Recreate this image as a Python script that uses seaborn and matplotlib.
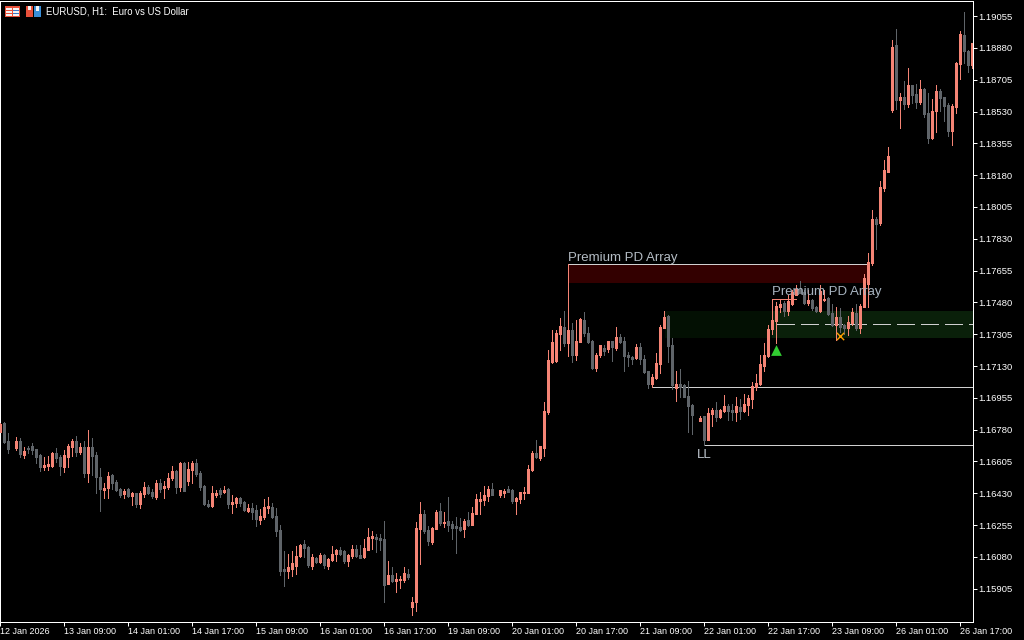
import numpy as np
import pandas as pd
import seaborn as sns
import matplotlib.pyplot as plt
from matplotlib.patches import Rectangle

# candles in points (price * 100000); None = nothing drawn for that bar
body_high = [116811,116818,116717,None,116717,116717,116664,116677,116690,116673,
    116640,116586,116591,116653,116653,116628,116640,116692,116719,116717,
    116686,116686,116686,116686,116640,116519,116459,116525,116532,116494,
    116452,116443,116455,116431,116431,116433,116464,116466,116437,116487,
    116487,116470,116516,116554,116553,116598,116598,116563,116598,116598,
    116543,116470,116371,116431,116431,116448,116448,116452,116382,116406,
    116406,116382,116349,116349,116338,116305,116354,116360,116354,116305,
    116228,116014,116023,116046,116085,116145,116151,116136,116079,116074,
    116090,116090,116068,116096,116118,116118,116113,116090,116123,116123,
    116090,116129,116189,116195,116189,116184,116179,115980,115980,115959,
    115959,115992,115986,115832,116239,116316,116316,116228,116239,116329,
    116333,116272,116277,116261,116250,116245,116277,116283,116321,116398,
    116398,116420,116453,116453,None,116448,116442,116453,116448,116404,
    116437,116437,116563,116651,116651,116690,116882,117163,117262,117311,
    117350,117345,117328,117328,117267,117389,117383,117311,117267,117191,
    117245,117229,117267,117267,117289,117289,117267,117191,117180,117234,
    117234,117169,117103,117069,117146,117345,117400,117405,117245,117031,
    117031,117026,116965,116916,None,116844,116855,116871,116888,116888,
    116888,116910,116910,116888,116910,116905,116921,116954,117020,117037,
    117141,117191,117334,117383,117460,117471,117477,117488,117537,117553,
    117553,117537,117493,117493,117454,117542,117499,117504,117421,117400,
    117400,117356,117372,117427,117421,117460,117614,117702,117939,117939,
    118115,118208,118285,118884,118895,118610,118610,118676,118676,118626,
    118653,118653,118522,118533,118643,118643,118610,118566,118560,118797,
    118956,118951,118863,118906]
body_low = [116769,116710,116673,None,116677,116646,116640,116673,116668,116631,
    116576,116575,116580,116580,116622,116582,116576,116631,116684,116659,
    116657,116543,116543,116635,116521,116452,116448,116459,116488,116448,
    116420,116426,116413,116417,116371,116371,116426,116433,116413,116411,
    116452,116459,116463,116514,116463,116463,116444,116497,116558,116536,
    116463,116371,116360,116358,116420,116426,116437,116371,116371,116375,
    116377,116336,116333,116329,116287,116283,116298,116349,116298,116222,
    116003,116003,116003,116014,116032,116085,116129,116036,116030,116052,
    116052,116036,116030,116063,116094,116096,116056,116056,116085,116085,
    116074,116079,116118,116186,116179,116173,115926,115931,115947,115949,
    115953,115953,115970,115805,115832,116233,116222,116168,116162,116233,
    116266,116266,116255,116237,116239,116228,116233,116255,116255,116316,
    116387,116393,116415,116420,None,116420,116431,116437,116387,116387,
    116398,116431,116431,116558,116629,116624,116681,116877,117152,117157,
    117306,117257,117257,117191,117191,117262,117311,117262,117119,117119,
    117191,117213,117223,117234,117229,117262,117185,117180,117169,117174,
    117169,117097,117031,117031,117064,117141,117339,117240,117026,117009,
    117015,116959,116910,116861,None,116827,116723,116723,116866,116849,
    116849,116882,116882,116877,116877,116882,116882,116915,116948,117015,
    117031,117130,117185,117334,117377,117454,117432,117432,117471,117520,
    117531,117477,117477,117449,117432,117432,117493,117416,117356,117356,
    117345,117339,117339,117366,117339,117339,117454,117581,117697,117911,
    117917,118109,118197,118538,118593,118593,118571,118571,118620,118582,
    118582,118516,118384,118384,118533,118604,118560,118422,118422,118555,
    118791,118863,118786,118786]
wick_high = [116815,116822,116763,None,116739,116736,116683,116690,116708,116673,
    116646,116631,116635,116659,116677,116640,116668,116699,116730,116745,
    116708,116719,116778,116736,116659,116567,116485,116549,116536,116503,
    116457,116452,116461,116439,116433,116441,116492,116475,116452,116503,
    116510,116499,116540,116580,116558,116602,116604,116604,116608,116617,
    116554,116475,116393,116472,116448,116457,116470,116457,116420,116411,
    116411,116389,116371,116378,116365,116342,116400,116408,116378,116351,
    116255,116113,116096,116113,116140,116151,116173,116140,116096,116079,
    116100,116096,116072,116140,116122,116136,116118,116096,116145,116145,
    116145,116179,116239,116223,116206,116206,116278,116056,116026,115992,
    115975,116025,116014,115860,116272,116382,116338,116250,116245,116338,
    116377,116327,116409,116277,116299,116294,116288,116327,116354,116426,
    116437,116470,116470,116486,None,116448,116453,116470,116453,116409,
    116437,116464,116585,116662,116723,116690,116930,117218,117328,117328,
    117392,117434,117365,117365,117383,117394,117427,117343,117273,117201,
    117245,117245,117267,117267,117345,117306,117289,117207,117185,117251,
    117257,117191,117103,117086,117201,117356,117432,117411,117284,117103,
    117113,117031,117048,116921,None,116855,116855,116899,116899,116932,
    116893,116970,116921,116921,116959,116949,116976,116970,117042,117086,
    117191,117257,117356,117498,117482,117493,117488,117520,117548,117575,
    117597,117548,117548,117499,117460,117575,117548,117511,117471,117454,
    117449,117361,117405,117449,117471,117471,117636,117751,117988,117950,
    118148,118263,118335,118923,118983,118630,118697,118769,118676,118679,
    118703,118657,118632,118598,118676,118653,118610,118577,118571,118802,
    118973,119077,118868,118906]
wick_low = [116769,116705,116653,None,116668,116628,116622,116650,116644,116595,
    116554,116558,116558,116576,116604,116530,116547,116576,116635,116635,
    116644,116518,116494,116530,116433,116334,116406,116406,116452,116444,
    116411,116406,116408,116365,116356,116349,116411,116426,116402,116400,
    116439,116404,116452,116503,116433,116444,116444,116475,116485,116525,
    116448,116367,116353,116353,116408,116411,116430,116351,116320,116356,
    116360,116333,116329,116287,116250,116261,116290,116320,116292,116195,
    115981,115920,115964,115975,115986,116078,116078,116023,116014,116045,
    116048,116017,116014,116058,116056,116090,116045,116030,116072,116078,
    116072,116074,116118,116123,116107,116118,115834,115929,115942,115887,
    115909,115942,115959,115761,115783,116041,116211,116145,116151,116233,
    116255,116243,116222,116179,116101,116222,116189,116250,116255,116316,
    116316,116365,116387,116420,None,116409,116409,116437,116377,116316,
    116377,116398,116431,116552,116624,116613,116635,116866,117146,117152,
    117218,117240,117185,117152,117163,117262,117295,117255,117113,117102,
    117180,117191,117207,117158,117218,117257,117102,117130,117141,117169,
    117141,117092,117009,117026,117059,117092,117339,117152,117004,116938,
    116959,116959,116767,116756,None,116827,116695,116723,116800,116827,
    116844,116877,116833,116833,116827,116838,116877,116861,116899,116998,
    117026,117102,117180,117306,117257,117427,117405,117410,117465,117520,
    117530,117471,117465,117438,117427,117427,117488,117410,117350,117273,
    117317,117306,117300,117356,117328,117312,117454,117454,117685,117773,
    117905,118093,118197,118527,118543,118439,118543,118554,118577,118549,
    118571,118500,118357,118379,118417,118533,118478,118395,118345,118522,
    118709,118797,118747,118769]
direction = ("UDD-UDUDDD" "DUUUDDUUUD" "UDUDDDUUDD" "DUDUDUUDDU" "DUUUDUDUUD"
             "DDDUUDUDUU" "DDUDDUUUDD" "DDUUUUDDUD" "UDUUUDDUUD" "DUUUDDDUDU"
             "UUDUUUDDUU" "DUDDDDUDUU" "UUUD-UUDDU" "UUUUDUUUUU" "UDUDUUDDDU"
             "UDUDUDDDDU" "DDDUUUUDDU" "DDDD-UDUUD" "UUDDUDUUUU" "UUUUUUDUUU"
             "DDUDDUUDDU" "DDUUDUUUUD" "UUUUDUDUDD" "UDDUUDDDUU" "UDDU")

price_ticks = [1.19055, 1.18880, 1.18705, 1.18530, 1.18355, 1.18180, 1.18005, 1.17830, 1.17655,
               1.17480, 1.17305, 1.17130, 1.16955, 1.16780, 1.16605, 1.16430, 1.16255, 1.16080, 1.15905]
time_ticks = [0, 16, 32, 48, 64, 80, 96, 112, 128, 144, 160, 176, 192, 208, 224, 240]
time_labels = ["12 Jan 2026", "13 Jan 09:00", "14 Jan 01:00", "14 Jan 17:00", "15 Jan 09:00", "16 Jan 01:00",
               "16 Jan 17:00", "19 Jan 09:00", "20 Jan 01:00", "20 Jan 17:00", "21 Jan 09:00", "22 Jan 01:00",
               "22 Jan 17:00", "23 Jan 09:00", "26 Jan 01:00", "26 Jan 17:00"]

SALMON = "#f58475"
GREY = "#5f6469"
LINE = "#d0d0d0"

sns.set_theme(style="dark", rc={"axes.facecolor": "black", "figure.facecolor": "black", "axes.edgecolor": "white",
                                "axes.linewidth": 0.72, "text.color": "white"})
plt.rcParams["font.family"] = ["Liberation Sans", "DejaVu Sans"]

candles = pd.DataFrame({"bar": np.arange(len(direction)), "top": body_high, "bottom": body_low,
                        "high": wick_high, "low": wick_low, "dir": list(direction)})
candles = candles[candles["dir"] != "-"]
candles[["top", "bottom", "high", "low"]] = candles[["top", "bottom", "high", "low"]].astype(float) / 1e5
wicks = candles.melt(id_vars=["bar", "dir"], value_vars=["high", "low"], value_name="price")
bodies = candles.melt(id_vars=["bar", "dir"], value_vars=["top", "bottom"], value_name="price")

fig = plt.figure(figsize=(10.24, 6.4), dpi=100)
# a fraction of a pixel off the edge so snapped lines land on the same pixel columns as the chart
ax = fig.add_axes([0.2 / 1024, 18.2 / 640, 973 / 1024, 621 / 640])
ax.set_xlim(0, 243.25)
ax.set_ylim(1.15723, 1.19139)

# zones and levels behind the candles
ax.fill_between([142, 216.7], 1.17586, 1.17693, color="#330000", lw=0, zorder=1)
ax.fill_between([166.2, 243.25], 1.17284, 1.17433, color="#031003", lw=0, zorder=1)
ax.fill_between([193, 243.25], 1.17284, 1.17433, color="#0a200a", lw=0, zorder=1.1)
ax.hlines(1.17693, 142, 216.7, color=LINE, lw=0.72, antialiased=False, zorder=2)
ax.hlines(1.17012, 163, 243.25, color=LINE, lw=0.72, antialiased=False, zorder=2)
ax.hlines(1.16694, 176, 243.25, color=LINE, lw=0.72, antialiased=False, zorder=2)
ax.hlines(1.17359, 194.2, 243.25, color=LINE, lw=0.72, antialiased=False, zorder=2, linestyles=[(0, (18, 6))])
ax.vlines(142, 1.17185, 1.17693, color=SALMON, lw=0.72, antialiased=False, zorder=2)
ax.vlines(193, 1.17306, 1.17500, color=SALMON, lw=0.72, antialiased=False, zorder=2)
ax.hlines(1.17500, 193, 199, color=SALMON, lw=0.72, antialiased=False, zorder=2)
ax.vlines(163, 1.17012, 1.17031, color=SALMON, lw=0.72, antialiased=False, zorder=2)
ax.vlines(176, 1.16694, 1.16723, color=GREY, lw=0.72, antialiased=False, zorder=2)

palette = {"U": SALMON, "D": GREY}
sns.lineplot(data=wicks, x="bar", y="price", units="bar", hue="dir", palette=palette, estimator=None, sort=False,
             legend=False, lw=0.72, solid_capstyle="butt", antialiased=False, zorder=3, ax=ax)
sns.lineplot(data=bodies, x="bar", y="price", units="bar", hue="dir", palette=palette, estimator=None, sort=False,
             legend=False, lw=2.16, solid_capstyle="butt", antialiased=False, zorder=3, ax=ax)

# signal markers
sns.scatterplot(x=[194], y=[1.17218], marker="^", color="#32cd32", s=60, linewidth=0, zorder=4, ax=ax)
sns.scatterplot(x=[210], y=[1.17296], marker="x", color="#ffa000", s=28, linewidth=1, zorder=4, ax=ax)

ax.text(142, 1.17708, "Premium PD Array", color="#b4bcc4", fontsize=9.5, va="baseline", ha="left", zorder=5)
ax.text(193, 1.17522, "Premium PD Array", color="#a8b4c0", fontsize=9.5, va="baseline", ha="left", zorder=5)
ax.text(174.2, 1.16626, "LL", color="#c0c8d0", fontsize=9.5, va="baseline", ha="left", zorder=5)

ax.set(xlabel=None, ylabel=None)
ax.yaxis.tick_right()
ax.set_yticks(price_ticks)
ax.set_yticklabels([f"{p:.5f}" for p in price_ticks])
ax.set_xticks(time_ticks)
ax.set_xticklabels(time_labels, ha="left")
ax.tick_params(axis="y", colors="white", labelsize=6.8, length=2.6, width=0.72, pad=1.2, right=True, left=False)
ax.tick_params(axis="x", colors="white", labelsize=6.5, length=2.6, width=0.72, pad=1.5, bottom=True)


def px_rect(x, y, w, h, color):
    fig.patches.append(Rectangle((x / 1024, 1 - (y + h) / 640), w / 1024, h / 640, transform=fig.transFigure,
                                 facecolor=color, edgecolor="none", zorder=6))


# the two small toolbar icons beside the title
px_rect(5, 6, 15, 11, "#e8503a")
px_rect(6, 8, 6, 8, "#f4f4f4")
px_rect(13, 8, 6, 8, "#f4f4f4")
for row in (10, 13):
    px_rect(6, row, 6, 1, "#e8503a")
    px_rect(13, row, 6, 1, "#3a78c8")
px_rect(26, 6, 7, 11, "#e8503a")
px_rect(34, 6, 7, 11, "#3a8fd8")
px_rect(28, 6, 3, 4, "#f4f4f4")
px_rect(36, 6, 3, 5, "#f4f4f4")

fig.text(46 / 1024, 1 - 15 / 640, "EURUSD, H1:  Euro vs US Dollar", color="white", fontsize=6.9, va="baseline")

fig.savefig("out.png", dpi=100, facecolor="black")
